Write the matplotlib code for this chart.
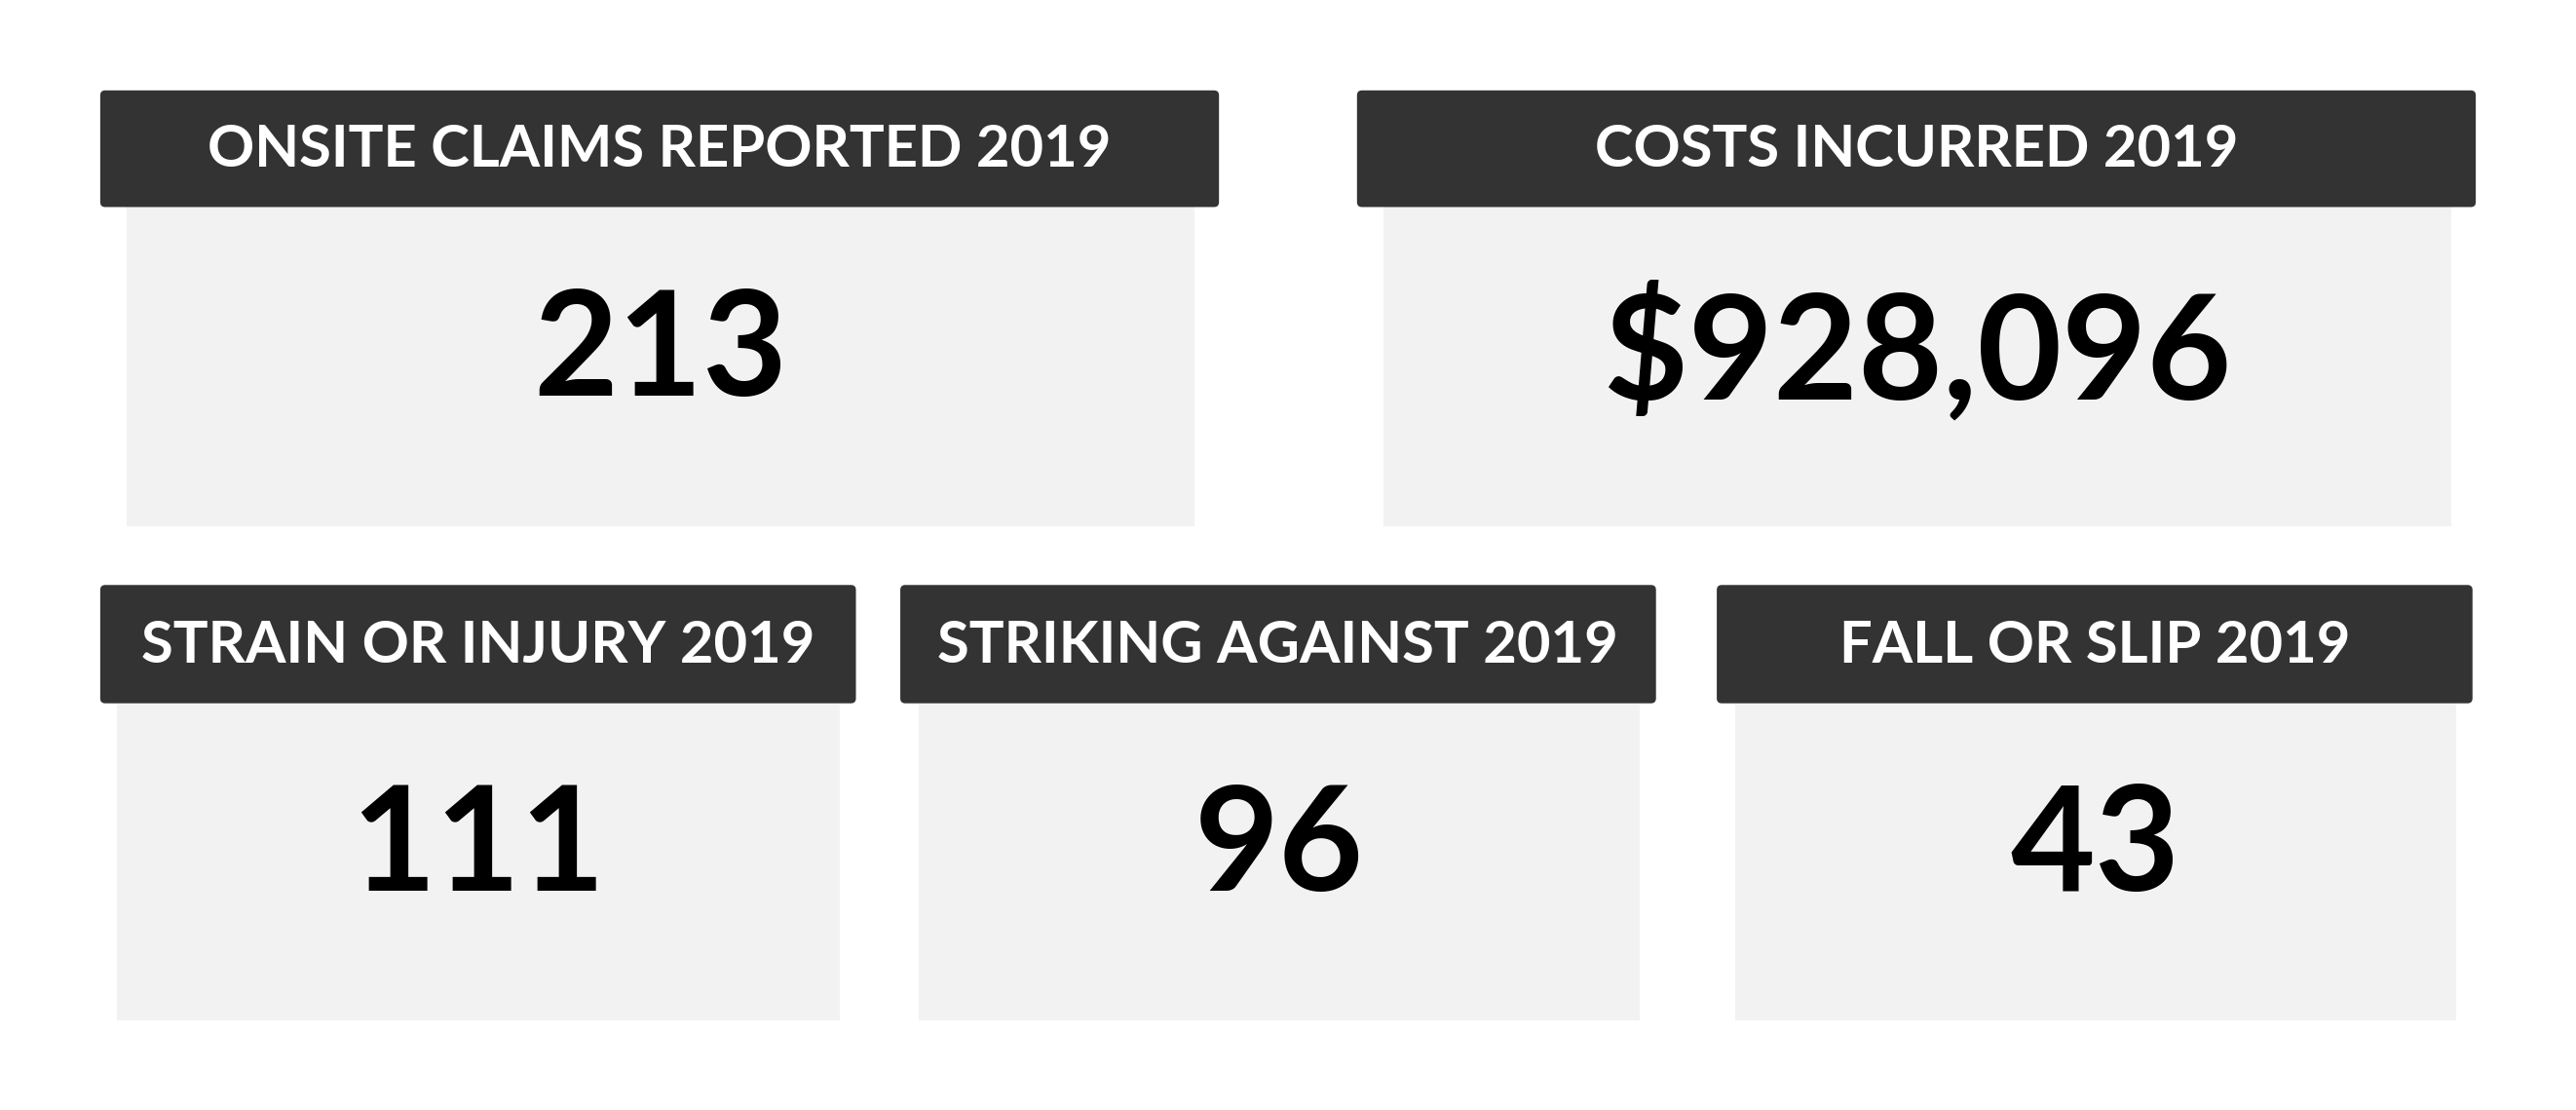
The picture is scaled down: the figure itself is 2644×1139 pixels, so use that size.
import matplotlib
matplotlib.use("Agg")
import matplotlib.pyplot as plt
from matplotlib.patches import FancyBboxPatch, Rectangle

titles = ["ONSITE CLAIMS REPORTED 2019", "COSTS INCURRED 2019",
          "STRAIN OR INJURY 2019", "STRIKING AGAINST 2019", "FALL OR SLIP 2019"]
values = ["213", "$928,096", "111", "96", "43"]

# layout (display units, 1568 x 675)
boxes = [  # header x0, x1, body x0, x1, header y0, y1, body y1
    (61, 742, 77, 727, 55, 126, 320),
    (826, 1507, 842, 1492, 55, 126, 320),
    (61, 521, 71, 511, 356, 428, 621),
    (548, 1008, 559, 998, 356, 428, 621),
    (1045, 1505, 1056, 1495, 356, 428, 621),
]

fig = plt.figure(figsize=(26.44, 11.39), dpi=100)
ax = fig.add_axes([0, 0, 1, 1])
ax.set_xlim(0, 1568)
ax.set_ylim(675.5, 0)
ax.axis("off")

for (hx0, hx1, bx0, bx1, hy0, hy1, by1), t, v in zip(boxes, titles, values):
    ax.add_patch(Rectangle((bx0, hy1), bx1 - bx0, by1 - hy1, facecolor="#f2f2f2", edgecolor="none"))
    ax.add_patch(FancyBboxPatch((hx0 + 3, hy0 + 3), hx1 - hx0 - 6, hy1 - hy0 - 6,
                                boxstyle="round,pad=3", facecolor="#333333", edgecolor="none"))
    ax.text((hx0 + hx1) / 2, (hy0 + hy1) / 2 + 1, t, color="white", fontsize=43,
            fontfamily="Lato", fontweight="bold", ha="center", va="center")
    ax.text((bx0 + bx1) / 2, (hy1 + by1) / 2 - 8, v, color="black", fontsize=108,
            fontfamily="Lato", fontweight="bold", ha="center", va="center")

fig.savefig("out.png", dpi=100, facecolor="white")
